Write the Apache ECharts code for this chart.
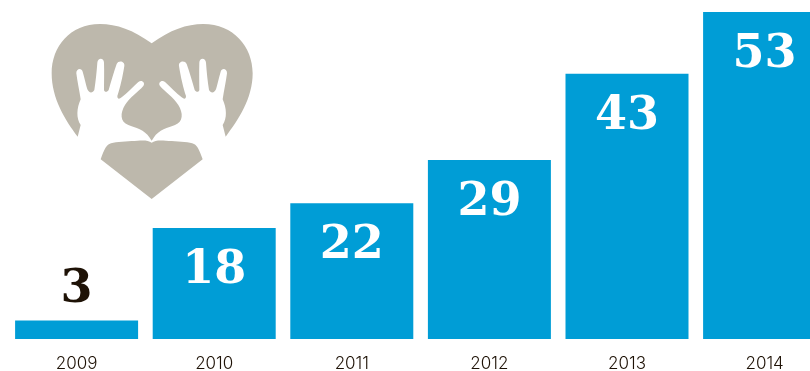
<!DOCTYPE html>
<html>
<head>
<meta charset="utf-8">
<style>html,body{margin:0;padding:0;background:#fff}#chart{width:810px;height:371px}</style>
<script src="https://cdn.jsdelivr.net/npm/echarts@6/dist/echarts.min.js"></script>
</head>
<body>
<div id="chart"></div>
<script>
const years = ['2009', '2010', '2011', '2012', '2013', '2014'];
const counts = [3, 18, 22, 29, 43, 53];

// Heart emblem with two raised hands, drawn in a 3x local space
const heartTop = 'M365,100 C420,60 470,42 520,42 C610,42 668,110 668,190 C668,265 625,330 587,380 L578,345 C592,325 590,295 578,268 C582,240 588,215 591,190 C592,175 575,172 572,185 C566,205 562,225 558,238 C553,250 542,250 537,240 C533,215 530,185 528,158 C527,142 508,142 508,158 C507,185 508,215 508,240 C507,247 498,247 494,240 C487,215 478,185 470,162 C465,150 445,153 447,168 C452,200 460,235 468,258 C468,268 462,268 455,262 C440,250 420,230 405,216 C395,208 383,218 390,228 C405,245 430,262 445,285 C460,310 460,335 435,345 C415,352 385,360 372,382 L365,392 L358,382 C345,360 315,352 295,345 C270,335 270,310 285,285 C300,262 325,245 340,228 C347,218 335,208 325,216 C310,230 290,250 275,262 C268,268 262,268 262,258 C270,235 278,200 283,168 C285,153 265,150 260,162 C252,185 243,215 236,240 C232,247 223,247 222,240 C222,215 223,185 222,158 C222,142 203,142 202,158 C200,185 197,215 193,240 C188,250 177,250 172,238 C168,225 164,205 158,185 C155,172 138,175 139,190 C142,215 148,240 152,268 C140,295 138,325 152,345 L143,380 C105,330 65,265 65,190 C65,110 120,42 210,42 C260,42 310,60 365,100 Z';
const heartBottom = 'M365,398 C378,388 400,392 425,393 C450,395 480,396 492,402 C503,408 508,420 518,448 L365,567 L212,448 C222,420 227,408 238,402 C250,396 280,395 305,393 C330,392 352,388 365,398 Z';

echarts.graphic.registerShape('heartTop', echarts.graphic.extendPath(heartTop, {}));
echarts.graphic.registerShape('heartBottom', echarts.graphic.extendPath(heartBottom, {}));

const labelFont = { fontFamily: '"DejaVu Serif", serif', fontWeight: 'bold', fontSize: 46 };

const barData = counts.map((v, i) => ({
  value: v,
  // The smallest bar is too short to hold its number, so it sits above in dark ink
  label: i === 0
    ? { position: 'top', distance: 7, color: '#1e1206' }
    : { position: 'insideTop', distance: 20, color: '#ffffff' }
}));

const chart = echarts.init(document.getElementById('chart'), null, { renderer: 'canvas' });
chart.setOption({
  animation: false,
  backgroundColor: '#ffffff',
  // The last bar runs past the right edge of the canvas
  grid: { left: 7.8, top: 12, bottom: 32, right: -23.4, containLabel: false, outerBoundsMode: 'none' },
  xAxis: {
    type: 'category',
    data: years,
    axisLine: { show: false },
    axisTick: { show: false },
    axisLabel: { color: '#1e1206', fontFamily: 'Inter', fontWeight: 300, fontSize: 17, margin: 16 }
  },
  yAxis: { type: 'value', min: 0, max: 53, show: false, splitLine: { show: false } },
  series: [{
    type: 'bar',
    data: barData,
    barWidth: 123,
    itemStyle: { color: '#009dd6' },
    label: Object.assign({ show: true }, labelFont)
  }],
  graphic: [
    { type: 'heartTop', x: 30, y: 10, scaleX: 1 / 3, scaleY: 1 / 3, style: { fill: '#bdb8ac' } },
    { type: 'heartBottom', x: 30, y: 10, scaleX: 1 / 3, scaleY: 1 / 3, style: { fill: '#bdb8ac' } }
  ]
});
</script>
</body>
</html>
